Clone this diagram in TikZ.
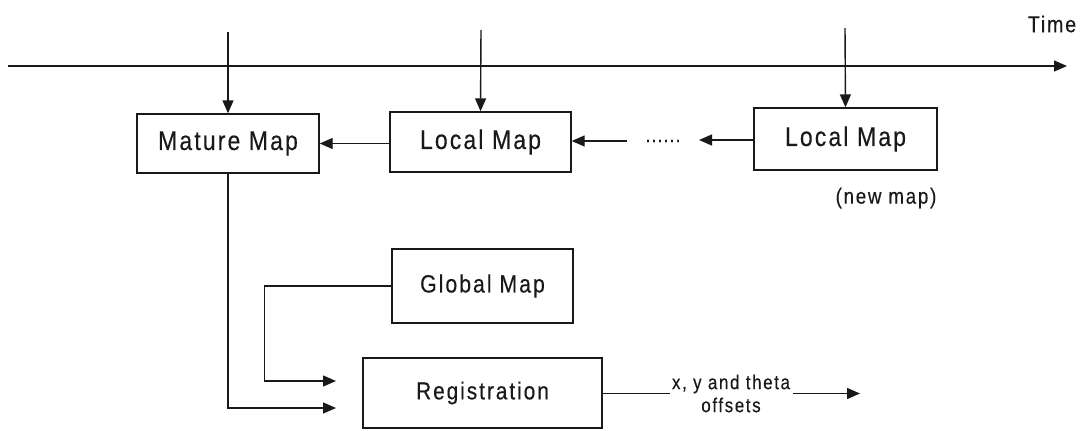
\documentclass[tikz,border=0pt]{standalone}
\usepackage{fontspec}
\setmainfont{Liberation Sans}[FakeStretch=0.85, LetterSpace=8, FakeBold=0.3]
\usetikzlibrary{arrows.meta}
\begin{document}
\begin{tikzpicture}[x=1pt,y=-1pt,
  line width=1.4pt, color=black!90,
  mapbox/.style={draw, inner sep=0pt, font=\fontsize{27}{32}\selectfont},
  flow/.style={-{Triangle[length=13pt,width=11pt]}},
  lbl/.style={inner sep=0pt}]
\useasboundingbox (0,0) rectangle (1082,431);

% time axis
\coordinate (t0) at (8,66);
\coordinate (t1) at (1067,66);
\draw[flow] (t0) -- (t1);
\node[lbl, font=\fontsize{23}{27}\selectfont] (time) at (1052,24) {Time};

% maps along the time axis
\node[mapbox, minimum width=182pt, minimum height=59pt] (mature) at (228,143.5) {Mature Map};
\node[mapbox, minimum width=181pt, minimum height=60pt] (local1) at (480.5,142) {Local Map};
\node[mapbox, minimum width=183pt, minimum height=62pt] (local2) at (845.5,139) {Local Map};
\node[lbl, font=\fontsize{22}{26}\selectfont] (newmap) at (886,198) {(new map)};

% moments on the time axis
\coordinate (m0) at (228,32);
\coordinate (m1) at (481,30);
\coordinate (m2) at (845,28);
\draw[flow] (m0) -- (mature.north);
\draw[flow] (m1) -- (local1.north);
\draw[flow] (m2) -- (local2.north);

% chain of local maps
\node[lbl, font=\fontsize{19}{23}\selectfont] (dots) at (663,141) {......};
\coordinate (d1) at (627,141);
\coordinate (d2) at (699,140);
\draw[flow] (local1.west |- mature.east) -- (mature.east);
\draw[flow] (d1) -- (local1.east |- d1);
\draw[flow] (local2.west |- d2) -- (d2);

% registration stage
\node[mapbox, font=\fontsize{25}{30}\selectfont, minimum width=181pt, minimum height=74pt] (global) at (482.5,286) {Global Map};
\node[mapbox, font=\fontsize{24.5}{29}\selectfont, minimum width=239pt, minimum height=70pt] (reg) at (482.5,393) {Registration};
\coordinate (in1) at (336,408);
\coordinate (in2) at (336,381);
\draw[flow] (mature.south) |- (in1);
\draw[flow] (global.west) -- ++(-127,0) |- (in2);

% output offsets
\node[lbl, inner xsep=1.5pt, align=center, font=\fontsize{20}{23}\selectfont] (out) at (731,393.5) {x, y and theta\\offsets};
\coordinate (o1) at (860,393.5);
\draw (reg.east |- out.west) -- (out.west);
\draw[flow] (out.east) ++(1,0) -- (o1);
\end{tikzpicture}
\end{document}
